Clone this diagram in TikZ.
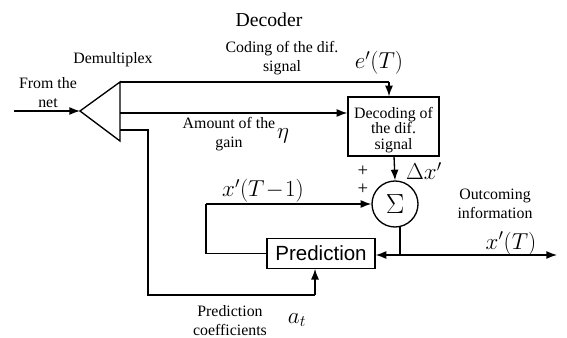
\documentclass[tikz,border=0pt]{standalone}
\usepackage{fontspec}
\setmainfont{Liberation Serif}
\newfontfamily\predfont{Liberation Sans}
\usetikzlibrary{arrows.meta}
\tikzset{
  conn/.style={line width=1pt, -{Latex[length=8pt,width=6pt]}},
  wire/.style={line width=1pt},
  lbl/.style={font=\fontsize{11.9}{14.2}\selectfont, align=center, inner sep=0pt},
  mth/.style={font=\fontsize{17.5}{19}\selectfont, inner sep=0pt},
  blockbox/.style={draw, line width=1pt, inner sep=0pt}
}
\begin{document}
\begin{tikzpicture}[x=0.75pt, y=-0.75pt]
\useasboundingbox (0,0) rectangle (567,338);
% demultiplexer triangle
\coordinate (apex) at (80,111);
\coordinate (ttop) at (120,82);
\coordinate (tbot) at (120,141);
\draw[wire, line join=miter] (apex) -- (ttop) -- (tbot) -- cycle;
\coordinate (in) at (14,111);
\draw[conn] (in) -- (apex);
% decoding box
\node[blockbox, minimum width=68.25pt, minimum height=44.25pt] (dec) at (393.5,126.5) {};
\node[lbl, font=\fontsize{11.9}{11.6}\selectfont] (dectxt) at (393.5,130) {Decoding of\\the dif.\\signal};
% sum circle
\node[draw, circle, line width=1pt, minimum size=34.5pt, inner sep=0pt,
      font=\fontsize{21}{23}\selectfont] (sum) at (395,204) {$\Sigma$};
% prediction box
\node[blockbox, minimum width=81pt, minimum height=22pt,
      font=\predfont\fontsize{15.4}{17}\selectfont] (pred) at (321,253.5) {Prediction};
% top line
\coordinate (t1) at (120,82);
\coordinate (t2) at (389,82);
\draw[wire] (t1) -- (t2);
\draw[conn] (t2) -- (t2 |- dec.north);
% middle line
\coordinate (m1) at (120,113);
\draw[conn] (m1) -- (m1 -| dec.west);
% coefficients line
\coordinate (c1) at (120,130);
\coordinate (c2) at (148,130);
\coordinate (c3) at (148,295);
\coordinate (c4) at (315,295);
\draw[wire] (c1) -- (c2) -- (c3) -- (c4);
\draw[conn] (c4) -- (c4 |- pred.south);
% decoder to sum
\coordinate (d1) at (394,156);
\draw[conn] (d1) -- (sum.north);
% feedback
\coordinate (f1) at (206,253.5);
\coordinate (f2) at (206,204);
\draw[wire] (pred.west) -- (f1) -- (f2);
\draw[conn] (f2) -- (sum.west);
% output
\coordinate (o1) at (400,226);
\coordinate (oj) at (400,255);
\coordinate (oend) at (557,255);
\draw[wire] (o1) -- (oj);
\draw[conn] (oj) -- (oend);
\draw[conn] (oj) -- (oj -| pred.east);
% labels
\node[font=\fontsize{14.8}{17}\selectfont, inner sep=0pt] (decoder) at (269,20) {Decoder};
\node[lbl] (demux) at (113,60) {Demultiplex};
\node[lbl] (from) at (48,93) {From the\\net};
\node[lbl] (coding) at (282,58.5) {Coding of the dif.\\signal};
\node[mth] (eT) at (379,63) {$e'(T)$};
\node[lbl] (amount) at (229,134) {Amount of the\\gain};
\node[mth] (eta) at (283,136) {$\eta$};
\node[lbl, font=\fontsize{14}{16}\selectfont] (p1) at (363,171) {+};
\node[lbl, font=\fontsize{14}{16}\selectfont] (p2) at (363,189) {+};
\node[mth] (dx) at (424,171) {$\Delta x'$};
\node[mth] (xT1) at (263,191) {$x'(T\!-\!1)$};
\node[lbl] (outinfo) at (495,204) {Outcoming\\information};
\node[mth] (xT) at (511,243.5) {$x'(T)$};
\node[lbl] (predcoef) at (230,321) {Prediction\\coefficients};
\node[mth] (at) at (297,320) {$a_t$};
\end{tikzpicture}
\end{document}
